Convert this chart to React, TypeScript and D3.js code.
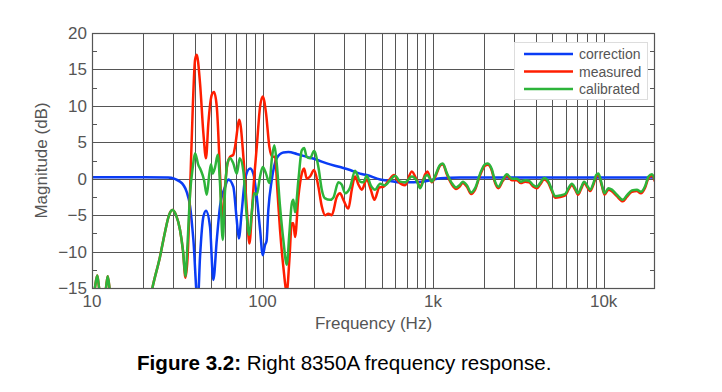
import React, { useEffect, useRef } from 'react';
import * as d3 from 'd3';

// [frequency Hz, dB]
const correction: [number, number][] = [
  [10, 0.2], [20, 0.2], [28, 0.15], [32.8, -0.4], [35.9, -1.8], [37.6, -3.8], [39.3, -8.4],
  [41.7, -17], [43.0, -10.7], [45.0, -5.2], [46.6, -4.4], [49.2, -6.6], [51.45, -13.9],
  [53.9, -8.4], [56.3, -3.8], [60.3, -1.1], [63.0, -0.1], [67.4, -1.1], [70.6, -5.7],
  [72.6, -8.2], [75.5, -4.5], [79.0, 0], [84.5, 1.4], [88.3, 0.7], [92.5, -2.5], [96.7, -7],
  [100.3, -10.5], [103.4, -9.1], [105.5, -8.6], [108.1, -4.3], [113.2, -0.2], [121, 2.8],
  [132.4, 3.6], [141.7, 3.65], [158.7, 3.4], [181.6, 3.0], [207.9, 2.6], [238, 2.1],
  [285, 1.6], [326, 1.2], [373, 0.7], [408, 0.5], [489, -0.1], [560, -0.3], [640, -0.5],
  [733, -0.5], [919, -0.3], [1100, 0.05], [1440, 0.15], [3000, 0.15], [20000, 0.15],
];

const measured: [number, number][] = [
  [10, -18], [10.4, -15], [10.74, -13.3], [11.0, -15], [11.3, -17.5], [11.6, -17.5],
  [12.08, -15], [12.36, -13.4], [12.66, -15], [13.1, -19], [16, -28], [20, -22],
  [22.6, -15], [25.05, -10.7], [26.8, -7.3], [28.3, -5], [29.6, -4.3], [31.1, -5],
  [32.8, -7], [34.2, -10], [35.3, -13.6], [36.3, -11], [37.6, -1.5], [39.0, 9.9],
  [40.2, 16.3], [41.1, 17.0], [43.0, 13.1], [45.0, 6.2], [46.6, 2.8], [48.1, 7.6],
  [50.35, 11.5], [51.95, 11.9], [53.9, 9.9], [56.3, 0.7], [57.6, -4.5], [58.4, -6],
  [60.3, -1], [62.2, 2.0], [64.5, 3.0], [67.4, 3.3], [69.0, 4.4], [73.1, 8.1], [77.2, 3.0],
  [80.8, -4], [83.7, -8.9], [86.4, -5], [88.3, -1.5], [92.5, 4.4], [96.7, 9.9],
  [100.3, 11.3], [104.8, 9.0], [109.6, 4.4], [114.1, 3.0], [118.4, 3.0], [122.1, -1.5],
  [126.6, -7], [132.4, -12.1], [138.7, -15.5], [143.6, -11.2], [148.4, -6.1],
  [151.6, -6.1], [155.1, -8], [162.2, -2.5], [169.8, 0.7], [175.2, 1.4], [181.6, 0],
  [189.9, 0.3], [200.5, 1.2], [212.5, -1.1], [222.5, -3.8], [232.6, -5.0], [243, -4.8],
  [254.6, -5], [272.4, -2.5], [284.8, -2], [297.8, -2.9], [318.6, -4.1], [333.6, -1.5],
  [348.8, 0.3], [364.7, -0.8], [381.8, -1.5], [408.4, -0.1], [431, -1.5], [452.6, -2.9],
  [484, -1.2], [511, -1.1], [547, -0.3], [590.6, 0.5], [626, -0.4], [685, -0.9],
  [750, 1.0], [802, -0.2], [839, -1.1], [898, 0.6], [926, 1.0], [983, -0.5],
  [1027, 0.2], [1099, 1.8], [1140, 2.0], [1203, 0.6], [1288, -0.8], [1364, -1.4],
  [1427, -1.1], [1494, -0.6], [1577, -1.1], [1671, -2.1], [1763, -1.5], [1887, 0.5],
  [2018, 1.8], [2094, 1.9], [2210, 1.1], [2310, -0.6], [2415, -1.3], [2564, -0.3],
  [2706, 0.4], [2894, -0.2], [3097, -0.2], [3268, -0.6], [3464, -0.4], [3656, -0.5],
  [3876, -1.1], [4058, -1.3], [4243, -0.8], [4477, -0.1], [4746, -0.6], [4968, -1.7],
  [5194, -2.6], [5558, -2.5], [5945, -2.3], [6217, -1.5], [6509, -0.9], [6805, -1.5],
  [7059, -2.2], [7379, -1.4], [7682, -0.6], [8035, -1.2], [8333, -1.7], [8713, -0.8],
  [9036, 0.3], [9322, 0.5], [9759, -1.0], [10110, -2.2], [10670, -1.5], [11170, -1.7],
  [11950, -2.4], [12960, -3.1], [13680, -2.5], [14640, -1.8], [15660, -1.7],
  [16530, -2.0], [17520, -1.2], [18320, 0.1], [19180, 0.4], [20000, -0.4],
];

const calibrated: [number, number][] = [
  [10, -18], [10.4, -15], [10.74, -13.3], [11.0, -15], [11.3, -17.5], [11.6, -17.5],
  [12.08, -15], [12.36, -13.4], [12.66, -15], [13.1, -19], [16, -28], [20, -22],
  [22.6, -15], [25.05, -10.7], [26.8, -7.3], [28.3, -5], [29.6, -4.3], [31.1, -5],
  [32.8, -7], [34.2, -10], [35.3, -13.4], [36.3, -9], [37.6, -2], [39.0, 1.6],
  [40.2, 3.5], [42.0, 1.9], [43.4, 1.2], [45.4, -0.2], [47.1, -2.2], [48.75, 0.7],
  [49.9, 2.0], [51.0, 0.7], [52.7, 1.6], [54.6, 3.3], [56.3, -0.6], [58.4, -8.4],
  [60.3, -1.5], [62.2, 2.1], [64.5, 2.8], [67.4, 2.1], [70.6, 0.7], [73.5, 2.8],
  [77.2, 1.0], [80.8, -5.2], [83.7, -7.7], [86.4, -4.7], [89.2, -2], [92.5, -2.2],
  [96.7, 0.3], [100.3, 1.6], [104.8, 0.7], [109.6, -0.6], [113.7, 3.0], [117.3, 4.6],
  [121.1, 2.1], [126.6, -3.8], [132.4, -8.4], [138.7, -11.8], [143.6, -7.5],
  [148.4, -3.4], [151.6, -2.9], [155.1, -4.6], [162.2, -0.2], [169.8, 3.9],
  [175.2, 4.2], [181.6, 3.0], [189.9, 2.8], [200.5, 3.8], [212.5, 1.6], [222.5, -1.5],
  [232.6, -2.7], [248.8, -2.9], [260, -2.6], [278.4, -0.5], [291, -0.8], [304.7, -2.0],
  [326, -1.2], [348.8, 1.1], [373, -0.4], [390, -0.5], [408, 0.4], [431, -0.9],
  [457, -1.5], [489, -0.7], [523, -0.9], [560, -0.2], [599, 0.4], [640, -0.4],
  [685, -0.5], [750, 0.3], [802, -0.3], [839, -1.3], [898, 0.3], [926, 0.5],
  [983, -0.4], [1027, 0.4], [1099, 1.9], [1140, 2.1], [1203, 0.8], [1288, -0.6],
  [1364, -1.2], [1427, -0.9], [1494, -0.4], [1577, -0.9], [1671, -1.9], [1763, -1.3],
  [1887, 0.7], [2018, 2.0], [2094, 2.1], [2210, 1.3], [2310, -0.4], [2415, -1.1],
  [2564, -0.1], [2706, 0.6], [2894, 0], [3097, 0], [3268, -0.4], [3464, -0.2],
  [3656, -0.3], [3876, -0.9], [4058, -1.1], [4243, -0.6], [4477, 0.1], [4746, -0.4],
  [4968, -1.5], [5194, -2.4], [5558, -2.3], [5945, -2.1], [6217, -1.3], [6509, -0.7],
  [6805, -1.3], [7059, -2.0], [7379, -1.2], [7682, -0.4], [8035, -1.0], [8333, -1.5],
  [8713, -0.6], [9036, 0.5], [9322, 0.7], [9759, -0.8], [10110, -2.0], [10670, -1.3],
  [11170, -1.5], [11950, -2.2], [12960, -2.9], [13680, -2.3], [14640, -1.6],
  [15660, -1.5], [16530, -1.8], [17520, -1.0], [18320, 0.3], [19180, 0.6], [20000, -0.2],
];

const xTicks = [10, 100, 1000, 10000];
const xTickLabels = ['10', '100', '1k', '10k'];
const yTicks = [-15, -10, -5, 0, 5, 10, 15, 20];
const yTickLabels = ['\u221215', '\u221210', '\u22125', '0', '5', '10', '15', '20'];
const seriesNames = ['correction', 'measured', 'calibrated'];
const seriesColors = ['#0a3cf5', '#ff1e00', '#2db43a'];

const W = 722;
const H = 392;
const FONT = "'Liberation Sans', Arial, Helvetica, sans-serif";

const App: React.FC = () => {
  const svgRef = useRef<SVGSVGElement>(null);

  useEffect(() => {
    if (!svgRef.current) return;
    const svg = d3.select(svgRef.current);
    svg.selectAll('*').remove();

    const left = 92, right = 655, top = 33, bottom = 288;
    const x = d3.scaleLog().domain([10, 20000]).range([left, right]);
    const y = d3.scaleLinear().domain([-15, 20]).range([bottom, top]);
    const gridColor = '#555';
    const textColor = '#555';

    svg.append('rect').attr('width', W).attr('height', H).attr('fill', '#fff');

    // log grid: every 1..9 per decade
    const minor: number[] = [];
    for (let d = 10; d <= 10000; d *= 10) {
      for (let k = 1; k < 10; k++) {
        const v = d * k;
        if (v > 10 && v < 20000) minor.push(v);
      }
    }
    svg.append('g')
      .selectAll('line')
      .data(minor)
      .join('line')
      .attr('x1', d => Math.round(x(d)) + 0.5)
      .attr('x2', d => Math.round(x(d)) + 0.5)
      .attr('y1', top)
      .attr('y2', bottom)
      .attr('stroke', gridColor)
      .attr('stroke-width', 1);

    svg.append('g')
      .selectAll('line')
      .data(yTicks.slice(1, -1))
      .join('line')
      .attr('x1', left)
      .attr('x2', right)
      .attr('y1', d => Math.round(y(d)) + 0.5)
      .attr('y2', d => Math.round(y(d)) + 0.5)
      .attr('stroke', gridColor)
      .attr('stroke-width', 1);

    // minor y ticks (2.5 dB) on both sides
    const yMinor = d3.range(-12.5, 20, 5);
    svg.append('g')
      .selectAll('path')
      .data(yMinor)
      .join('path')
      .attr('d', d => {
        const yy = Math.round(y(d)) + 0.5;
        return `M${left},${yy}h5M${right},${yy}h-5`;
      })
      .attr('stroke', gridColor)
      .attr('stroke-width', 1);

    // curves
    const defs = svg.append('defs');
    defs.append('clipPath').attr('id', 'plot-clip')
      .append('rect')
      .attr('x', left).attr('y', top)
      .attr('width', right - left).attr('height', bottom - top);

    const line = d3.line<[number, number]>()
      .x(d => x(d[0]))
      .y(d => y(d[1]))
      .curve(d3.curveMonotoneX);

    const series = [correction, measured, calibrated];
    const curves = svg.append('g').attr('clip-path', 'url(#plot-clip)');
    series.forEach((s, i) => {
      curves.append('path')
        .attr('d', line(s) || '')
        .attr('fill', 'none')
        .attr('stroke', seriesColors[i])
        .attr('stroke-width', 2.5)
        .attr('stroke-linejoin', 'round');
    });

    // frame
    svg.append('rect')
      .attr('x', left + 0.5).attr('y', top + 0.5)
      .attr('width', right - left - 1).attr('height', bottom - top)
      .attr('fill', 'none')
      .attr('stroke', gridColor)
      .attr('stroke-width', 1.2);

    // tick labels
    svg.append('g')
      .selectAll('text')
      .data(yTicks)
      .join('text')
      .attr('x', left - 5)
      .attr('y', d => y(d) + 6)
      .attr('text-anchor', 'end')
      .attr('font-family', FONT)
      .attr('font-size', 17)
      .attr('fill', textColor)
      .text((d, i) => yTickLabels[i]);

    svg.append('g')
      .selectAll('text')
      .data(xTicks)
      .join('text')
      .attr('x', d => x(d))
      .attr('y', bottom + 19)
      .attr('text-anchor', 'middle')
      .attr('font-family', FONT)
      .attr('font-size', 17)
      .attr('fill', textColor)
      .text((d, i) => xTickLabels[i]);

    svg.append('text')
      .attr('x', (left + right) / 2)
      .attr('y', 329)
      .attr('text-anchor', 'middle')
      .attr('font-family', FONT)
      .attr('font-size', 17)
      .attr('fill', textColor)
      .text('Frequency (Hz)');

    svg.append('text')
      .attr('transform', `translate(47,${(top + bottom) / 2}) rotate(-90)`)
      .attr('text-anchor', 'middle')
      .attr('font-family', FONT)
      .attr('font-size', 17)
      .attr('fill', textColor)
      .text('Magnitude (dB)');

    // legend
    const lg = svg.append('g');
    lg.append('rect')
      .attr('x', 514.5).attr('y', 42.5)
      .attr('width', 133).attr('height', 57)
      .attr('fill', '#fff')
      .attr('stroke', '#ddd');
    seriesNames.forEach((name, i) => {
      const yy = 54 + i * 17.5;
      lg.append('line')
        .attr('x1', 524).attr('x2', 573)
        .attr('y1', yy).attr('y2', yy)
        .attr('stroke', seriesColors[i])
        .attr('stroke-width', 2.5);
      lg.append('text')
        .attr('x', 579).attr('y', yy + 5)
        .attr('font-family', FONT)
        .attr('font-size', 14)
        .attr('fill', textColor)
        .text(name);
    });

    // caption
    const cap = svg.append('text')
      .attr('x', 137)
      .attr('y', 370)
      .attr('font-family', FONT)
      .attr('font-size', 20.6)
      .attr('fill', '#000');
    cap.append('tspan').attr('font-weight', 'bold').text('Figure 3.2:');
    cap.append('tspan').text(' Right 8350A frequency response.');
  }, []);

  return (
    <div style={{ position: 'absolute', left: 0, top: 0, width: W, height: H }}>
      <svg ref={svgRef} width={W} height={H} style={{ display: 'block' }}></svg>
    </div>
  );
};

export default App;
